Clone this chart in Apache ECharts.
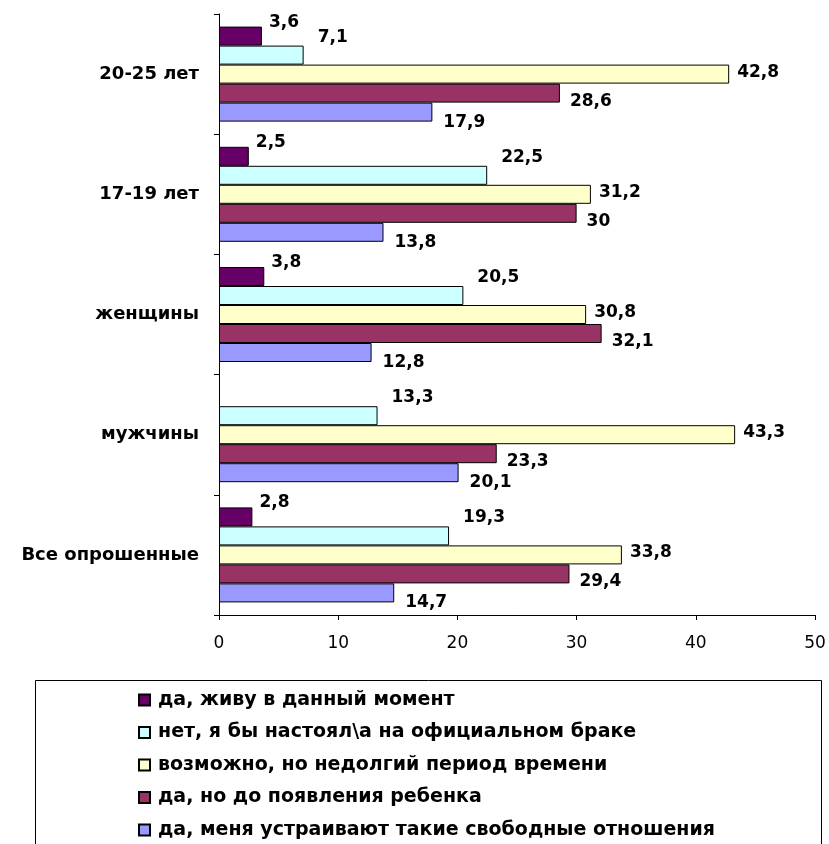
<!DOCTYPE html>
<html>
<head>
<meta charset="utf-8">
<script src="https://cdn.jsdelivr.net/npm/echarts@6/dist/echarts.min.js"></script>
<style>
html, body { margin: 0; padding: 0; background: #fff; }
#chart { width: 829px; height: 844px; }
</style>
</head>
<body>
<div id="chart"></div>
<script>
// Categories (bottom to top on the axis)
var categories = ['Все опрошенные', 'мужчины', 'женщины', '17-19 лет', '20-25 лет'];

// Series names (legend order)
var seriesNames = [
  'да, живу в данный момент',
  'нет, я бы настоял\\а на официальном браке',
  'возможно, но недолгий период времени',
  'да, но до появления ребенка',
  'да, меня устраивают такие свободные отношения'
];

// Values per series, in category order
var liveNow      = [2.8, null, 3.8, 2.5, 3.6];
var insistMarry  = [19.3, 13.3, 20.5, 22.5, 7.1];
var shortPeriod  = [33.8, 43.3, 30.8, 31.2, 42.8];
var untilChild   = [29.4, 23.3, 32.1, 30, 28.6];
var freeRelation = [14.7, 20.1, 12.8, 13.8, 17.9];

// X-axis ticks
var xMin = 0, xMax = 50, xStep = 10;

var colors = ['#660066', '#CCFFFF', '#FFFFCC', '#993366', '#9999FF'];
var valueSets = [liveNow, insistMarry, shortPeriod, untilChild, freeRelation];
var labelOffsets = [[2, -14], [9, -18], [3, -2], [5, 8], [6, 10]];

var FONT = 'DejaVu Sans';

function fmt(p) {
  return String(p.value).replace('.', ',');
}

var series = seriesNames.map(function (name, i) {
  return {
    name: name,
    type: 'bar',
    data: valueSets[i],
    barWidth: 19,
    barGap: '0%',
    itemStyle: { color: colors[i], borderColor: '#000', borderWidth: 1 },
    label: {
      show: true,
      position: 'right',
      distance: 5,
      offset: labelOffsets[i],
      formatter: fmt,
      color: '#000',
      fontFamily: FONT,
      fontWeight: 'bold',
      fontSize: 17
    },
    emphasis: { disabled: true },
    animation: false
  };
});

var chart = echarts.init(document.getElementById('chart'), null, { renderer: 'canvas' });
chart.setOption({
  backgroundColor: '#fff',
  animation: false,
  grid: { left: 219, right: 14, top: 14, bottom: 229, containLabel: false },
  xAxis: {
    type: 'value',
    min: xMin, max: xMax, interval: xStep,
    axisLine: { show: true, lineStyle: { color: '#000', width: 1 } },
    axisTick: { show: true, length: 5, lineStyle: { color: '#000' } },
    splitLine: { show: false },
    axisLabel: { color: '#000', fontFamily: FONT, fontSize: 17, margin: 20 }
  },
  yAxis: {
    type: 'category',
    data: categories,
    axisLine: { show: true, lineStyle: { color: '#000', width: 1 } },
    axisTick: { show: true, length: 5, lineStyle: { color: '#000' } },
    axisLabel: { color: '#000', fontFamily: FONT, fontWeight: 'bold', fontSize: 18, margin: 20 }
  },
  legend: {
    data: seriesNames,
    orient: 'vertical',
    left: 138,
    top: 690,
    height: 200,
    padding: 0,
    icon: 'rect',
    itemWidth: 11,
    itemHeight: 11,
    itemGap: 12.5,
    selectedMode: false,
    textStyle: { color: '#000', fontFamily: FONT, fontWeight: 'bold', fontSize: 19, lineHeight: 20, padding: [0, 0, 0, 3] }
  },
  graphic: [{
    type: 'rect',
    shape: { x: 35.5, y: 680.5, width: 786, height: 180 },
    style: { fill: 'none', stroke: '#000', lineWidth: 1 },
    silent: true
  }],
  series: series
});
</script>
</body>
</html>
